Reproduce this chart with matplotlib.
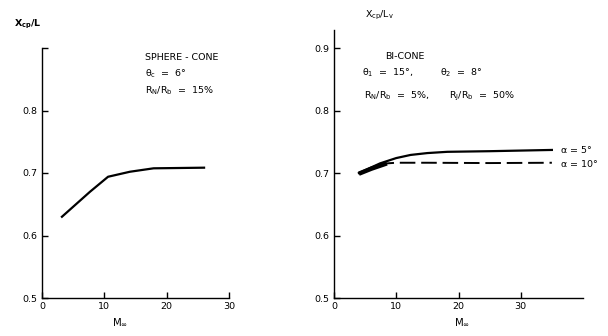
import matplotlib
matplotlib.use("Agg")
import matplotlib.pyplot as plt

plt.rcParams['font.family'] = ['DejaVu Sans']
plt.rcParams['mathtext.default'] = 'regular'

# Left panel: sphere-cone
mach_sc = [3.2, 5.0, 7.7, 10.6, 14.1, 17.9, 22.0, 26.0]
xcp_sc = [0.630, 0.646, 0.670, 0.694, 0.702, 0.7075, 0.708, 0.7085]

# Right panel: bi-cone
mach_a5 = [4.0, 7.4, 10.0, 12.3, 15.0, 18.2, 25.0, 35.0]
xcp_a5 = [0.700, 0.7155, 0.724, 0.729, 0.732, 0.734, 0.735, 0.737]
mach_a10 = [4.0, 6.0, 8.5, 10.0, 15.0, 25.0, 35.0]
xcp_a10 = [0.699, 0.707, 0.7155, 0.7165, 0.7165, 0.716, 0.7165]

left_yticks = [0.5, 0.6, 0.7, 0.8, 0.9]
left_ylabels = ['0.5', '0.6', '0.7', '0.8', '']
left_xticks = [0, 10, 20, 30]
right_yticks = [0.5, 0.6, 0.7, 0.8, 0.9]
right_ylabels = ['0.5', '0.6', '0.7', '0.8', '0.9']
right_xticks = [0, 10, 20, 30]

fig = plt.figure(figsize=(6.08, 3.36), dpi=100)
fs = 6.8

def style(ax):
    for s in ['top', 'right']:
        ax.spines[s].set_visible(False)
    for s in ['left', 'bottom']:
        ax.spines[s].set_linewidth(1.0)
    ax.tick_params(direction='in', length=4, width=1.0, labelsize=fs, pad=3)

# Left axes
ax1 = fig.add_axes([42/608, 38/336, 187/608, 250/336])
ax1.plot(mach_sc, xcp_sc, color='black', lw=1.6)
ax1.set_xlim(0, 30)
ax1.set_ylim(0.5, 0.9)
ax1.set_yticks(left_yticks)
ax1.set_yticklabels(left_ylabels)
ax1.set_xticks(left_xticks)
style(ax1)
ax1.text(16.5, 0.885, 'SPHERE - CONE', fontsize=fs, va='center', ha='left')
ax1.text(16.5, 0.858, r'$\theta_c$  =  6°', fontsize=fs, va='center', ha='left')
ax1.text(16.5, 0.831, r'$R_N/R_b$  =  15%', fontsize=fs, va='center', ha='left')
fig.text(14/608, 1 - 24/336, r'X$_{cp}$/L', fontsize=fs, va='center', ha='left', fontweight='bold')
fig.text(120/608, 1 - 322/336, r'M$_{\infty}$', fontsize=fs + 0.5, va='center', ha='center')

# Right axes
ax2 = fig.add_axes([334/608, 38/336, 249/608, 268/336])
ax2.plot(mach_a5, xcp_a5, color='black', lw=1.6)
ax2.plot(mach_a10, xcp_a10, color='black', lw=1.4, dashes=(8, 3))
ax2.plot(mach_a10[:3], xcp_a10[:3], color='black', lw=3.2, solid_capstyle='butt')
ax2.set_xlim(0, 40)
ax2.set_ylim(0.5, 0.929)
ax2.set_yticks(right_yticks)
ax2.set_yticklabels(right_ylabels)
ax2.set_xticks(right_xticks)
style(ax2)
ax2.text(36.3, 0.738, r'$\alpha$ = 5°', fontsize=fs, va='center', ha='left')
ax2.text(36.3, 0.716, r'$\alpha$ = 10°', fontsize=fs, va='center', ha='left')
ax2.text(8.2, 0.886, 'BI-CONE', fontsize=fs, va='center', ha='left')
ax2.text(4.5, 0.860, r'$\theta_1$  =  15°,', fontsize=fs, va='center', ha='left')
ax2.text(17.0, 0.860, r'$\theta_2$  =  8°', fontsize=fs, va='center', ha='left')
ax2.text(4.8, 0.823, r'$R_N/R_b$  =  5%,', fontsize=fs, va='center', ha='left')
ax2.text(18.5, 0.823, r'$R_J/R_b$  =  50%', fontsize=fs, va='center', ha='left')
fig.text(365/608, 1 - 15/336, r'X$_{cp}$/L$_v$', fontsize=fs, va='center', ha='left')
fig.text(462/608, 1 - 322/336, r'M$_{\infty}$', fontsize=fs + 0.5, va='center', ha='center')

fig.savefig('out.png', dpi=100)
